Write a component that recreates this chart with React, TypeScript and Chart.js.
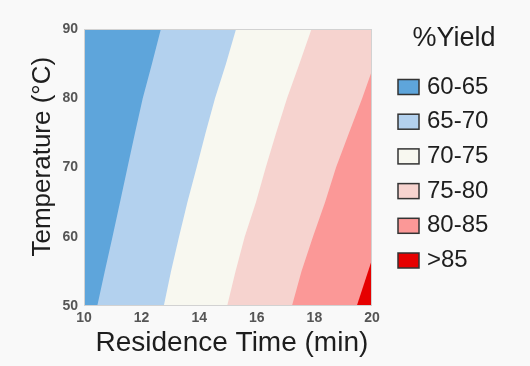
import React, { useEffect, useRef } from "react";
import { Chart, registerables } from "chart.js";

Chart.register(...registerables);

// Axis ranges
const timeRange = [10, 20];
const tempRange = [50, 90];

// Legend / yield bands
const legendTitle = "%Yield";
const bandLabels = ["60-65", "65-70", "70-75", "75-80", "80-85", ">85"];
const bandColors = ["#5ea5db", "#b3d1ee", "#f8f8f0", "#f6d3cf", "#fb9897", "#e60000"];

// Contour boundaries: residence time (min) at which yield crosses each level, per temperature (°C)
const contourTemps = [50, 55, 60, 65, 70, 75, 80, 85, 90];
const time65 = [10.46, 10.72, 10.99, 11.25, 11.51, 11.77, 12.04, 12.36, 12.67];
const time70 = [12.77, 13.02, 13.3, 13.59, 13.91, 14.22, 14.55, 14.93, 15.28];
const time75 = [14.97, 15.26, 15.58, 15.97, 16.31, 16.67, 17.05, 17.48, 17.9];
const temps80 = [50, 55, 60, 65, 70, 75, 80, 84];
const time80 = [17.22, 17.55, 17.95, 18.37, 18.75, 19.2, 19.66, 20.0];
const temps85 = [50, 56.7];
const time85 = [19.47, 20.0];

const FONT = '"Liberation Sans", Arial, sans-serif';

function leftOf(times: number[], temps: number[]) {
  const pts = [{ x: timeRange[0], y: tempRange[0] }];
  times.forEach((t, i) => pts.push({ x: t, y: temps[i] }));
  pts.push({ x: times[times.length - 1], y: tempRange[1] });
  pts.push({ x: timeRange[0], y: tempRange[1] });
  return pts;
}

const fullArea = () => [
  { x: timeRange[0], y: tempRange[0] },
  { x: timeRange[1], y: tempRange[0] },
  { x: timeRange[1], y: tempRange[1] },
  { x: timeRange[0], y: tempRange[1] },
];

const frameAndLegend = {
  id: "frameAndLegend",
  afterDatasetsDraw(chart: any) {
    const { ctx, chartArea } = chart;
    ctx.save();
    ctx.strokeStyle = "#d2d2d2";
    ctx.lineWidth = 1;
    ctx.strokeRect(chartArea.left + 0.5, chartArea.top + 0.5, chartArea.right - chartArea.left - 1, chartArea.bottom - chartArea.top - 1);
    ctx.restore();
  },
  afterDraw(chart: any) {
    const { ctx, chartArea } = chart;
    const x0 = chartArea.right;
    ctx.save();
    ctx.fillStyle = "#1e1e1e";
    ctx.font = `27px ${FONT}`;
    ctx.textAlign = "center";
    ctx.textBaseline = "middle";
    ctx.fillText(legendTitle, x0 + 82, 39);
    ctx.font = `24px ${FONT}`;
    ctx.textAlign = "left";
    chart.data.datasets.forEach((ds: any, i: number) => {
      const cy = 87 + i * 34.7;
      ctx.fillStyle = ds.backgroundColor;
      ctx.fillRect(x0 + 26, cy - 7.5, 21, 15);
      ctx.strokeStyle = "#333";
      ctx.lineWidth = 1.5;
      ctx.strokeRect(x0 + 26, cy - 7.5, 21, 15);
      ctx.fillStyle = "#1e1e1e";
      ctx.fillText(ds.label, x0 + 55, cy);
    });
    ctx.restore();
  },
};

export default function App() {
  const ref = useRef<HTMLCanvasElement | null>(null);
  useEffect(() => {
    if (!ref.current) return;
    const polys = [
      leftOf(time65, contourTemps),
      leftOf(time70, contourTemps),
      leftOf(time75, contourTemps),
      leftOf(time80, temps80),
      leftOf(time85, temps85),
      fullArea(),
    ];
    const chart = new Chart(ref.current, {
      type: "line",
      data: {
        datasets: polys.map((p, i) => ({
          label: bandLabels[i],
          data: p,
          backgroundColor: bandColors[i],
          borderWidth: 0,
          borderColor: bandColors[i],
          pointRadius: 0,
          pointHoverRadius: 0,
          fill: "shape",
          tension: 0,
        })),
      },
      options: {
        responsive: false,
        animation: false,
        events: [],
        layout: { padding: { top: 29, right: 158, left: 0, bottom: 0 } },
        plugins: { legend: { display: false }, tooltip: { enabled: false } },
        scales: {
          x: {
            type: "linear",
            min: timeRange[0],
            max: timeRange[1],
            grid: { display: false, drawTicks: false },
            border: { display: false },
            ticks: { stepSize: 2, padding: 4, color: "#555", font: { family: FONT, size: 14, weight: "bold" } },
            title: { display: true, text: " Residence Time (min)", color: "#1e1e1e", font: { family: FONT, size: 28 }, padding: { top: 0, bottom: 5.7 } },
            afterFit: (s: any) => { s.height = 60; },
          },
          y: {
            type: "linear",
            min: tempRange[0],
            max: tempRange[1],
            grid: { display: false, drawTicks: false },
            border: { display: false },
            ticks: { stepSize: 10, padding: 6, color: "#555", font: { family: FONT, size: 14, weight: "bold" } },
            title: { display: true, text: "   Temperature (°C)", color: "#1e1e1e", font: { family: FONT, size: 26 }, padding: { top: 26.9, bottom: 0 } },
            afterFit: (s: any) => { s.width = 84; },
          },
        },
      },
      plugins: [frameAndLegend],
    });
    return () => chart.destroy();
  }, []);
  return (
    <div style={{ position: "fixed", left: 0, top: 0, width: 530, height: 366, background: "#f9f9f9" }}>
      <canvas ref={ref} width={530} height={366} />
    </div>
  );
}
